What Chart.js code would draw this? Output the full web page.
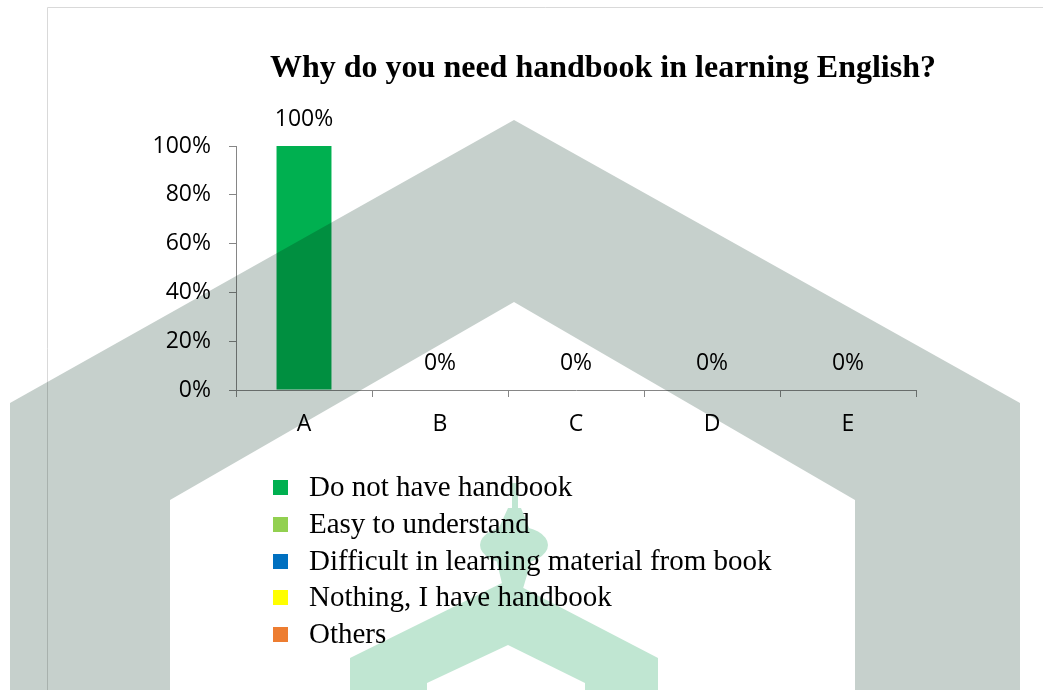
<!DOCTYPE html>
<html>
<head>
<meta charset="utf-8">
<title>Why do you need handbook in learning English?</title>
<script src="https://cdn.jsdelivr.net/npm/chart.js@4/dist/chart.umd.min.js"></script>
<style>
  html, body { margin: 0; padding: 0; background: #fff; }
  #chart { display: block; }
</style>
</head>
<body>
<canvas id="chart" width="1043" height="690"></canvas>
<script>
const categories = ["A", "B", "C", "D", "E"];
const percentValues = [100, 0, 0, 0, 0];
const yTicks = [0, 20, 40, 60, 80, 100];
const legendLabels = [
  "Do not have handbook",
  "Easy to understand",
  "Difficult in learning material from book",
  "Nothing, I have handbook",
  "Others",
];
const barColors = ["#00B050", "#92D050", "#0070C0", "#FFFF00", "#ED7D31"];

const titleText = "Why do you need handbook in learning English?";
const axisColor = "#868686";
const tickFont = { family: "'Open Sans', sans-serif", size: 23 };
const serif = "'Liberation Serif', 'Times New Roman', serif";

// white page plus the thin frame of the chart box
const backdrop = {
  id: "backdrop",
  beforeDraw(chart) {
    const ctx = chart.ctx;
    ctx.save();
    ctx.fillStyle = "#fff";
    ctx.fillRect(0, 0, chart.width, chart.height);
    ctx.strokeStyle = "#d9d9d9";
    ctx.lineWidth = 1;
    ctx.beginPath();
    ctx.moveTo(47.5, chart.height);
    ctx.lineTo(47.5, 7.5);
    ctx.lineTo(chart.width, 7.5);
    ctx.stroke();
    ctx.restore();
  },
};

// value labels above each bar
const valueLabels = {
  id: "valueLabels",
  afterDatasetsDraw(chart) {
    const ctx = chart.ctx;
    const meta = chart.getDatasetMeta(0);
    ctx.save();
    ctx.font = `${tickFont.size}px ${tickFont.family}`;
    ctx.fillStyle = "#000";
    ctx.textAlign = "center";
    ctx.textBaseline = "middle";
    meta.data.forEach((bar, i) => {
      ctx.fillText(`${percentValues[i]}%`, bar.x, bar.y - 27);
    });
    ctx.restore();
  },
};

// title and the stacked legend list
const titleAndLegend = {
  id: "titleAndLegend",
  afterDraw(chart) {
    const ctx = chart.ctx;
    const area = chart.chartArea;
    ctx.save();
    ctx.fillStyle = "#000";
    ctx.font = `bold 32px ${serif}`;
    ctx.textAlign = "center";
    ctx.textBaseline = "middle";
    ctx.fillText(titleText, 603, 69);

    ctx.font = `29px ${serif}`;
    ctx.textAlign = "left";
    legendLabels.forEach((label, i) => {
      const cy = area.bottom + 97.5 + i * 36.75;
      ctx.fillStyle = barColors[i];
      ctx.fillRect(273, Math.round(cy - 7.5), 15, 15);
      ctx.fillStyle = "#000";
      ctx.fillText(label, 309, cy + 1);
    });
    ctx.restore();
  },
};

// faint background emblem, multiplied over the chart
const emblem = {
  id: "emblem",
  afterDraw(chart) {
    const ctx = chart.ctx;
    const h = chart.height;
    ctx.save();
    ctx.globalCompositeOperation = "multiply";

    ctx.fillStyle = "#c6d0cc";
    ctx.beginPath();
    ctx.moveTo(10, h);
    ctx.lineTo(10, 403);
    ctx.lineTo(514, 120);
    ctx.lineTo(1020, 403);
    ctx.lineTo(1020, h);
    ctx.lineTo(855, h);
    ctx.lineTo(855, 500);
    ctx.lineTo(514, 302);
    ctx.lineTo(170, 500);
    ctx.lineTo(170, h);
    ctx.closePath();
    ctx.fill();

    ctx.fillStyle = "#c0e6d2";
    ctx.beginPath();
    ctx.moveTo(350, h);
    ctx.lineTo(350, 658);
    ctx.lineTo(508, 580);
    ctx.lineTo(658, 658);
    ctx.lineTo(658, h);
    ctx.lineTo(585, h);
    ctx.lineTo(585, 683);
    ctx.lineTo(508, 645);
    ctx.lineTo(427, 683);
    ctx.lineTo(427, h);
    ctx.closePath();
    // lamp: stem, neck, globe and base
    ctx.rect(512, 483, 6, 26);
    ctx.moveTo(508, 508);
    ctx.lineTo(521, 508);
    ctx.lineTo(530, 530);
    ctx.lineTo(498, 530);
    ctx.closePath();
    ctx.moveTo(548, 545);
    ctx.ellipse(514, 545, 34, 19, 0, 0, Math.PI * 2);
    ctx.moveTo(496, 558);
    ctx.lineTo(532, 558);
    ctx.lineTo(522, 592);
    ctx.lineTo(504, 592);
    ctx.closePath();
    ctx.fill("nonzero");
    ctx.restore();
  },
};

new Chart(document.getElementById("chart"), {
  type: "bar",
  data: {
    labels: categories,
    datasets: [
      {
        data: percentValues,
        backgroundColor: barColors,
        borderWidth: 0,
        barPercentage: 1,
        categoryPercentage: 0.404,
      },
    ],
  },
  options: {
    responsive: false,
    animation: false,
    devicePixelRatio: 1,
    layout: { padding: { left: 151, right: 127, top: 146, bottom: 250 } },
    plugins: {
      legend: { display: false },
      title: { display: false },
      tooltip: { enabled: false },
    },
    scales: {
      x: {
        offset: true,
        grid: {
          offset: true,
          drawOnChartArea: false,
          tickLength: 7,
          color: axisColor,
        },
        border: { color: axisColor },
        ticks: { font: tickFont, color: "#000", padding: 14 },
        afterFit(scale) {
          scale.height = 50;
        },
      },
      y: {
        min: 0,
        max: 100,
        afterBuildTicks(scale) {
          scale.ticks = yTicks.map((v) => ({ value: v }));
        },
        grid: {
          drawOnChartArea: false,
          tickLength: 7,
          color: axisColor,
        },
        border: { color: axisColor },
        ticks: {
          font: tickFont,
          color: "#000",
          padding: 18,
          callback: (value) => `${value}%`,
        },
        afterFit(scale) {
          scale.width = 85;
        },
      },
    },
  },
  plugins: [backdrop, valueLabels, titleAndLegend, emblem],
});
</script>
</body>
</html>
